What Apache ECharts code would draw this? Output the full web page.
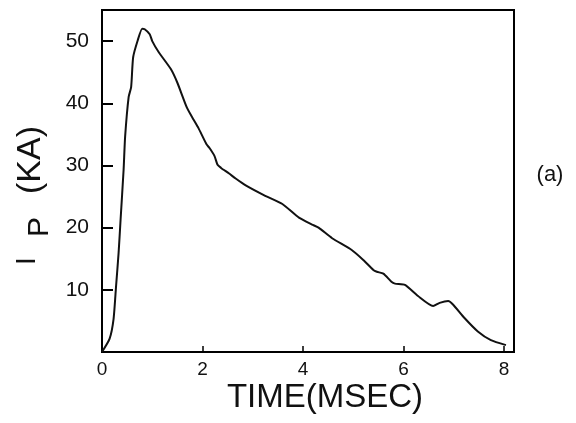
<!DOCTYPE html>
<html>
<head>
<meta charset="utf-8">
<script src="https://cdn.jsdelivr.net/npm/echarts@6/dist/echarts.min.js"></script>
<style>
  html, body { margin: 0; padding: 0; background: #fff; }
  #chart { width: 576px; height: 423px; }
</style>
</head>
<body>
<div id="chart"></div>
<script>
// Time (ms) and plasma current I_P (kA)
var timeMs = [0, 0.15, 0.23, 0.28, 0.33, 0.37, 0.43, 0.46, 0.53, 0.58, 0.62, 0.71, 0.80, 0.85, 0.95, 1.0,
  1.13, 1.37, 1.50, 1.69, 1.82, 1.92, 2.08, 2.14, 2.24, 2.30, 2.37, 2.53, 2.66, 2.86, 3.23, 3.59,
  3.92, 4.18, 4.31, 4.58, 4.97, 5.2, 5.40, 5.47, 5.60, 5.76, 5.83, 6.03, 6.29, 6.59, 6.72, 6.89,
  6.99, 7.21, 7.48, 7.74, 8.04];
var currentKA = [0, 2.1, 5.3, 10.6, 15.9, 21.3, 29.3, 34.6, 41.0, 42.6, 47.4, 50.1, 52.0, 51.9, 51.1, 50.0,
  48.2, 45.5, 43.3, 39.3, 37.4, 36.0, 33.4, 32.8, 31.5, 30.1, 29.6, 28.7, 27.9, 26.8, 25.2, 23.8,
  21.6, 20.5, 20.0, 18.3, 16.4, 14.8, 13.2, 12.9, 12.6, 11.3, 11.0, 10.8, 9.0, 7.4, 7.9, 8.2,
  7.6, 5.5, 3.3, 1.9, 1.1];
var xTickLabels = ['0', '2', '4', '6', '8'];
var yTickLabels = ['10', '20', '30', '40', '50'];

var seriesData = timeMs.map(function (t, i) { return [t, currentKA[i]]; });
var FONT = 'Liberation Sans, Arial, sans-serif';

var chart = echarts.init(document.getElementById('chart'), null, { renderer: 'canvas' });
chart.setOption({
  animation: false,
  backgroundColor: '#fff',
  grid: { left: 102, right: 62, top: 10, bottom: 71, show: true, borderColor: '#000', borderWidth: 2, backgroundColor: 'transparent' },
  xAxis: {
    type: 'value', min: 0, max: 8.2, interval: 2,
    axisLine: { show: true, lineStyle: { color: '#000', width: 2 } },
    axisTick: { show: true, inside: true, length: 6, lineStyle: { color: '#000', width: 1.5 } },
    axisLabel: {
      fontSize: 19, color: '#111', margin: 8, fontFamily: FONT,
      showMaxLabel: false,
      formatter: function (v) { var s = String(v); return xTickLabels.indexOf(s) >= 0 ? s : ''; }
    },
    splitLine: { show: false }
  },
  yAxis: {
    type: 'value', min: 0, max: 55, interval: 10,
    axisLine: { show: true, lineStyle: { color: '#000', width: 2 } },
    axisTick: { show: true, inside: true, length: 11, lineStyle: { color: '#000', width: 2 } },
    axisLabel: {
      fontSize: 21, color: '#111', margin: 13, fontFamily: FONT,
      showMinLabel: false, showMaxLabel: false,
      formatter: function (v) { var s = String(v); return yTickLabels.indexOf(s) >= 0 ? s : ''; }
    },
    splitLine: { show: false }
  },
  series: [{
    type: 'line',
    data: seriesData,
    showSymbol: false,
    smooth: 0.2,
    lineStyle: { color: '#111', width: 2 },
    itemStyle: { color: '#111' }
  }],
  graphic: [
    {
      type: 'group', x: 30, y: 265, rotation: Math.PI / 2,
      children: [
        { type: 'text', x: 0, y: -3, style: { text: 'I', fontSize: 28, fontFamily: FONT, fill: '#111', align: 'left', verticalAlign: 'middle' } },
        { type: 'text', x: 28, y: 10, style: { text: 'P', fontSize: 30, fontFamily: FONT, fill: '#111', align: 'left', verticalAlign: 'middle' } },
        { type: 'text', x: 105, y: 1, style: { text: '(KA)', fontSize: 34, fontFamily: FONT, fill: '#111', align: 'center', verticalAlign: 'middle' } }
      ]
    },
    { type: 'text', x: 325, y: 398, style: { text: 'TIME(MSEC)', fontSize: 33, fontFamily: FONT, fill: '#111', align: 'center', verticalAlign: 'middle' } },
    { type: 'text', x: 550, y: 175, style: { text: '(a)', fontSize: 22, fontFamily: FONT, fill: '#111', align: 'center', verticalAlign: 'middle' } }
  ]
});
</script>
</body>
</html>
